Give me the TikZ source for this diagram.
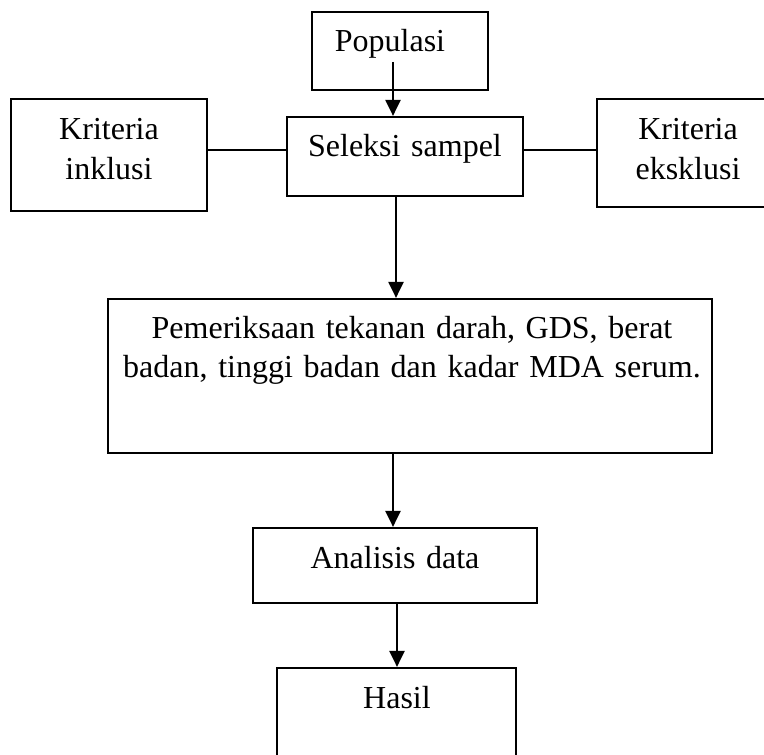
\documentclass[tikz,border=0pt]{standalone}
\usepackage{fontspec}
\setmainfont{Liberation Serif}
\usetikzlibrary{arrows.meta,fit}
\begin{document}
\begin{tikzpicture}[x=0.5pt,y=-0.5pt,
  box/.style={draw,line width=1.1pt,inner sep=0pt,rectangle},
  txt/.style={anchor=base,inner sep=0pt,text width=200pt,align=center,
    font=\fontsize{16}{19.8}\selectfont},
  arr/.style={line width=1.1pt,-{Triangle[length=8pt,width=7.5pt]}},
  ln/.style={line width=1.1pt}]
\clip (0,0) rectangle (764,754);
\fill[white] (0,0) rectangle (764,754);
% boxes
\node[box,fit={(312,12) (488,90)}] (pop) {};
\node[box,fit={(287,117) (523,196)}] (sel) {};
\node[box,fit={(11,99) (207,211)}] (inc) {};
\node[box,fit={(597,99) (790,207)}] (exc) {};
\node[box,fit={(108,299) (712,453)}] (pem) {};
\node[box,fit={(253,528) (537,603)}] (ana) {};
\node[box,fit={(277,668) (516,790)}] (has) {};
% texts
\node[txt] (tpop) at (390,52) {Populasi};
\node[txt] (tsel) at (405,157) {Seleksi sampel};
\node[txt] (tinc) at (109,140) {Kriteria\\inklusi};
\node[txt] (texc) at (688,140) {Kriteria\\eksklusi};
\node[txt,text width=340pt] (tpem) at (412,338) {Pemeriksaan tekanan darah, GDS, berat\\badan, tinggi badan dan kadar MDA serum.};
\node[txt] (tana) at (395,568) {Analisis data};
\node[txt] (thas) at (397,708) {Hasil};
% connectors
\coordinate (ps) at (393,62);
\draw[arr] (ps) -- (ps |- sel.north);
\coordinate (ss) at (396,196);
\draw[arr] (ss) -- (ss |- pem.north);
\coordinate (es) at (393,453);
\draw[arr] (es) -- (es |- ana.north);
\coordinate (as) at (397,603);
\draw[arr] (as) -- (as |- has.north);
\coordinate (lh) at (0,150);
\draw[ln] (inc.east |- lh) -- (sel.west |- lh);
\draw[ln] (sel.east |- lh) -- (exc.west |- lh);
\end{tikzpicture}
\end{document}
